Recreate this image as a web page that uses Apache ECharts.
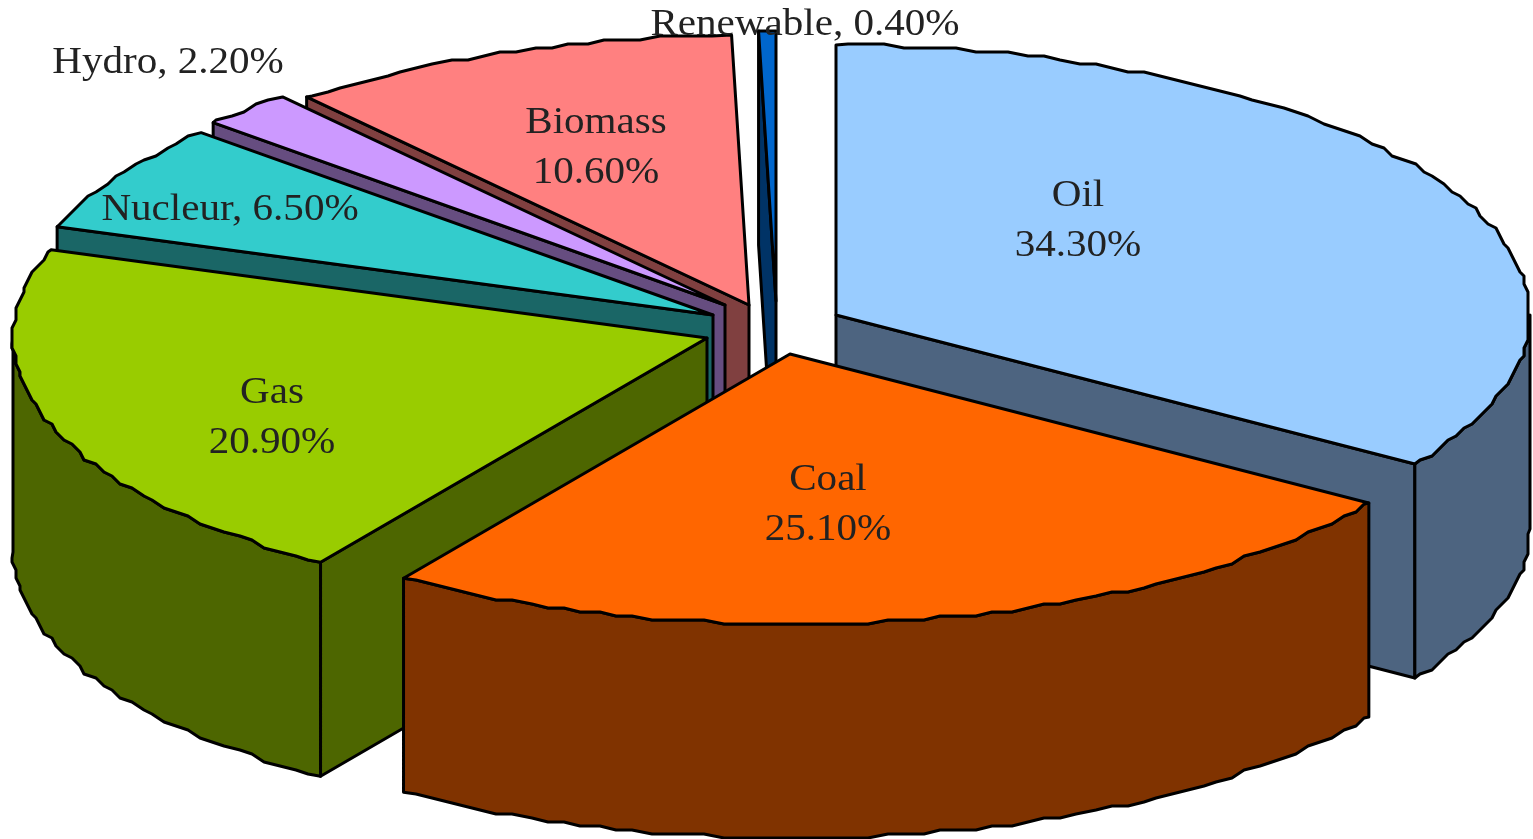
<!DOCTYPE html>
<html>
<head>
<meta charset="utf-8">
<style>html,body{margin:0;padding:0;background:#fff}#chart{width:1533px;height:839px}</style>
<script src="https://cdn.jsdelivr.net/npm/echarts@6/dist/echarts.min.js"></script>
</head>
<body>
<div id="chart"></div>
<script>
// ----- data -----
var categories = ['Oil', 'Coal', 'Gas', 'Nucleur', 'Hydro', 'Biomass', 'Renewable'];
var shares = [34.3, 25.1, 20.9, 6.5, 2.2, 10.6, 0.4];
var shareLabels = ['34.30%', '25.10%', '20.90%', '6.50%', '2.20%', '10.60%', '0.40%'];

// ----- styles / layout -----
var topColors  = ['#99CCFF', '#FF6600', '#99CC00', '#33CCCC', '#CC99FF', '#FF8080', '#0066CC'];
var wallColors = ['#4D6480', '#803300', '#4D6600', '#1A6666', '#664D80', '#804040', '#003366'];
var apexX = [836, 790, 707, 713, 725, 749, 776];
var apexY = [315, 354, 338, 315, 305, 305, 301];
var labelX = [1078, 828, 272, 230, 168, 596, 805];
var labelY = [221, 505, 418, 210, 63, 148, 25];
var labelInline = [false, false, false, true, true, false, true];
var drawOrder = [6, 5, 4, 3, 0, 2, 1];
var RX = 694, RY = 270, DEPTH = 214, GRID = 4;

var total = shares.reduce(function (a, b) { return a + b; }, 0);
var startAngles = [];
shares.reduce(function (acc, v, i) { startAngles[i] = acc; return acc + v / total * 360; }, 0);

function rim(i, deg) {
  var t = deg * Math.PI / 180;
  return [apexX[i] + RX * Math.sin(t), apexY[i] - RY * Math.cos(t)];
}
function arc(i, a, b) {
  var pts = [rim(i, a)], step = 1.5;
  for (var d = Math.ceil(a + 0.5); d < b - 0.5; d += step) {
    var p = rim(i, d);
    pts.push([Math.round(p[0] / GRID) * GRID, Math.round(p[1] / GRID) * GRID]);
  }
  pts.push(rim(i, b));
  return pts;
}
function down(pts) { return pts.map(function (p) { return [p[0], p[1] + DEPTH]; }); }
function poly(points, fill, lw) {
  return {
    type: 'polygon',
    shape: { points: points },
    style: { fill: fill, stroke: '#000', lineWidth: lw || 3, lineJoin: 'round' }
  };
}
function cutFace(i, deg) {
  var a = [apexX[i], apexY[i]], r = rim(i, deg);
  return poly([a, r, [r[0], r[1] + DEPTH], [a[0], a[1] + DEPTH]], wallColors[i]);
}

function renderSlice(params, api) {
  var i = api.value(0);
  var a = startAngles[i], b = a + shares[i] / total * 360;
  var children = [];
  // flat cut faces that turn towards the viewer
  if (a > 180 && a < 360) children.push(cutFace(i, a));
  if (b > 0 && b < 180) children.push(cutFace(i, b));
  // curved outer wall on the front half
  var wa = Math.max(a, 90), wb = Math.min(b, 270);
  if (wb > wa) {
    var top = arc(i, wa, wb);
    children.push(poly(top.concat(down(top).reverse()), wallColors[i]));
  }
  // top face
  children.push(poly([[apexX[i], apexY[i]]].concat(arc(i, a, b)), topColors[i]));
  return { type: 'group', children: children };
}

function renderLabel(params, api) {
  var i = api.value(0);
  var txt = labelInline[i]
    ? categories[i] + ', ' + shareLabels[i]
    : categories[i] + '\n' + shareLabels[i];
  return {
    type: 'text',
    x: labelX[i], y: labelY[i], scaleX: 1.11,
    style: {
      text: txt, x: 0, y: 0,
      font: '37px "Liberation Serif", serif',
      lineHeight: 50, fill: '#222',
      textAlign: 'center', textVerticalAlign: 'middle', verticalAlign: 'middle', align: 'center'
    }
  };
}

var chart = echarts.init(document.getElementById('chart'));
chart.setOption({
  backgroundColor: '#fff',
  animation: false,
  series: [
    { type: 'custom', coordinateSystem: 'none', renderItem: renderSlice, silent: true,
      clip: false, z: 2, encode: { value: 0 },
      data: drawOrder.map(function (i) { return [i, shares[i]]; }) },
    { type: 'custom', coordinateSystem: 'none', renderItem: renderLabel, silent: true,
      clip: false, z: 3, encode: { value: 0 },
      data: categories.map(function (c, i) { return [i, shares[i]]; }) }
  ]
});
</script>
</body>
</html>
